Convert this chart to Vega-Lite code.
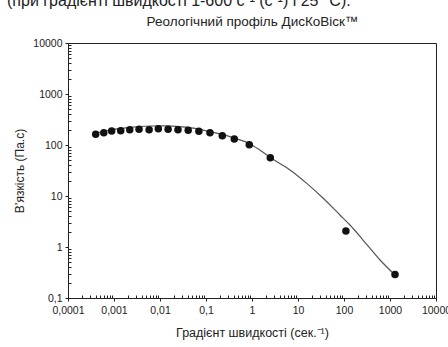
{
  "$schema": "https://vega.github.io/schema/vega-lite/v6.json",
  "width": 368,
  "height": 255,
  "autosize": {"type": "none"},
  "padding": {"left": 68, "top": 43, "right": 12, "bottom": 49},
  "background": "white",
  "config": {
    "font": "Liberation Sans",
    "view": {"stroke": "#222", "strokeWidth": 1},
    "axis": {"labelFont": "Liberation Sans", "titleFont": "Liberation Sans", "labelColor": "#222", "titleColor": "#222", "domainColor": "#222", "tickColor": "#222", "grid": false, "titleFontWeight": "normal"}
  },
  "title": {
    "text": "(при градієнті швидкості 1-600 с⁻¹ (с⁻¹) і 25 °С).",
    "fontSize": 16,
    "fontWeight": "normal",
    "font": "Liberation Sans",
    "color": "#222",
    "anchor": "start",
    "frame": "group",
    "dx": -61,
    "offset": 5
  },
  "datasets": {
    "points": [
      {"rate": 0.0004, "viscosity": 162},
      {"rate": 0.0006, "viscosity": 174},
      {"rate": 0.00089, "viscosity": 188},
      {"rate": 0.0014, "viscosity": 191},
      {"rate": 0.0022, "viscosity": 200},
      {"rate": 0.0035, "viscosity": 203},
      {"rate": 0.0058, "viscosity": 200},
      {"rate": 0.0092, "viscosity": 209},
      {"rate": 0.015, "viscosity": 203},
      {"rate": 0.0246, "viscosity": 200},
      {"rate": 0.041, "viscosity": 194},
      {"rate": 0.07, "viscosity": 186},
      {"rate": 0.122, "viscosity": 174},
      {"rate": 0.226, "viscosity": 152},
      {"rate": 0.412, "viscosity": 131},
      {"rate": 0.873, "viscosity": 101},
      {"rate": 2.5, "viscosity": 56},
      {"rate": 110, "viscosity": 2.06},
      {"rate": 1285, "viscosity": 0.29}
    ],
    "curve": [
      {"rate": 0.000386, "viscosity": 168},
      {"rate": 0.000818, "viscosity": 197},
      {"rate": 0.00223, "viscosity": 222},
      {"rate": 0.00607, "viscosity": 236},
      {"rate": 0.01285, "viscosity": 238},
      {"rate": 0.0272, "viscosity": 230},
      {"rate": 0.0577, "viscosity": 211},
      {"rate": 0.11, "viscosity": 186},
      {"rate": 0.223, "viscosity": 161},
      {"rate": 0.427, "viscosity": 135},
      {"rate": 0.906, "viscosity": 105},
      {"rate": 1.42, "viscosity": 82},
      {"rate": 2.86, "viscosity": 52.4},
      {"rate": 6.7, "viscosity": 32.4},
      {"rate": 15.5, "viscosity": 17.7},
      {"rate": 34.9, "viscosity": 9.14},
      {"rate": 81.8, "viscosity": 4.24},
      {"rate": 135, "viscosity": 2.7},
      {"rate": 259, "viscosity": 1.37},
      {"rate": 607, "viscosity": 0.556},
      {"rate": 1285, "viscosity": 0.283}
    ]
  },
  "layer": [
    {
      "data": {"name": "curve"},
      "mark": {"type": "line", "color": "#555", "strokeWidth": 1.2, "interpolate": "monotone"},
      "encoding": {
        "x": {"field": "rate", "type": "quantitative", "scale": {"type": "log", "domain": [0.0001, 10000]},
          "axis": {"orient": "bottom", "title": null, "labels": false, "domain": false, "tickSize": -3,
            "values": [0.0002,0.0003,0.0004,0.0005,0.0006,0.0007,0.0008,0.0009,0.002,0.003,0.004,0.005,0.006,0.007,0.008,0.009,0.02,0.03,0.04,0.05,0.06,0.07,0.08,0.09,0.2,0.3,0.4,0.5,0.6,0.7,0.8,0.9,2,3,4,5,6,7,8,9,20,30,40,50,60,70,80,90,200,300,400,500,600,700,800,900,2000,3000,4000,5000,6000,7000,8000,9000]}},
        "y": {"field": "viscosity", "type": "quantitative", "scale": {"type": "log", "domain": [0.1, 10000]},
          "axis": {"orient": "left", "title": null, "labels": false, "domain": false, "tickSize": -3,
            "values": [0.2,0.3,0.4,0.5,0.6,0.7,0.8,0.9,2,3,4,5,6,7,8,9,20,30,40,50,60,70,80,90,200,300,400,500,600,700,800,900,2000,3000,4000,5000,6000,7000,8000,9000]}}
      }
    },
    {
      "data": {"name": "points"},
      "mark": {"type": "point", "filled": true, "color": "#111", "opacity": 1, "size": 56},
      "encoding": {
        "x": {"field": "rate", "type": "quantitative", "scale": {"type": "log", "domain": [0.0001, 10000]},
          "axis": {"orient": "bottom", "title": "Градієнт швидкості (сек.⁻¹)", "titleFontSize": 12.5, "titlePadding": 11,
            "values": [0.0001,0.001,0.01,0.1,1,10,100,1000,10000], "format": "~g", "labelExpr": "replace(datum.label, '.', ',')",
            "labelFontSize": 10.5, "tickSize": 3, "labelPadding": 4, "labelFlush": false, "labelOverlap": false}},
        "y": {"field": "viscosity", "type": "quantitative", "scale": {"type": "log", "domain": [0.1, 10000]},
          "axis": {"orient": "left", "title": "В’язкість (Па.с)", "titleFontSize": 12, "titlePadding": 6,
            "values": [0.1,1,10,100,1000,10000], "format": "~g", "labelExpr": "replace(datum.label, '.', ',')",
            "labelFontSize": 10.5, "tickSize": 3, "labelPadding": 3, "labelOverlap": false}}
      }
    },
    {
      "data": {"name": "points"},
      "mark": {"type": "point", "filled": true, "opacity": 0, "size": 1},
      "encoding": {
        "x": {"field": "rate", "type": "quantitative", "scale": {"type": "log", "domain": [0.0001, 10000]},
          "axis": {"orient": "top", "title": "Реологічний профіль ДисКоВіск™", "titleFontSize": 13.5, "titlePadding": 15,
            "labels": false, "ticks": false, "domain": false}},
        "y": {"field": "viscosity", "type": "quantitative", "scale": {"type": "log", "domain": [0.1, 10000]}, "axis": null}
      }
    }
  ],
  "resolve": {"axis": {"x": "independent", "y": "independent"}}
}
